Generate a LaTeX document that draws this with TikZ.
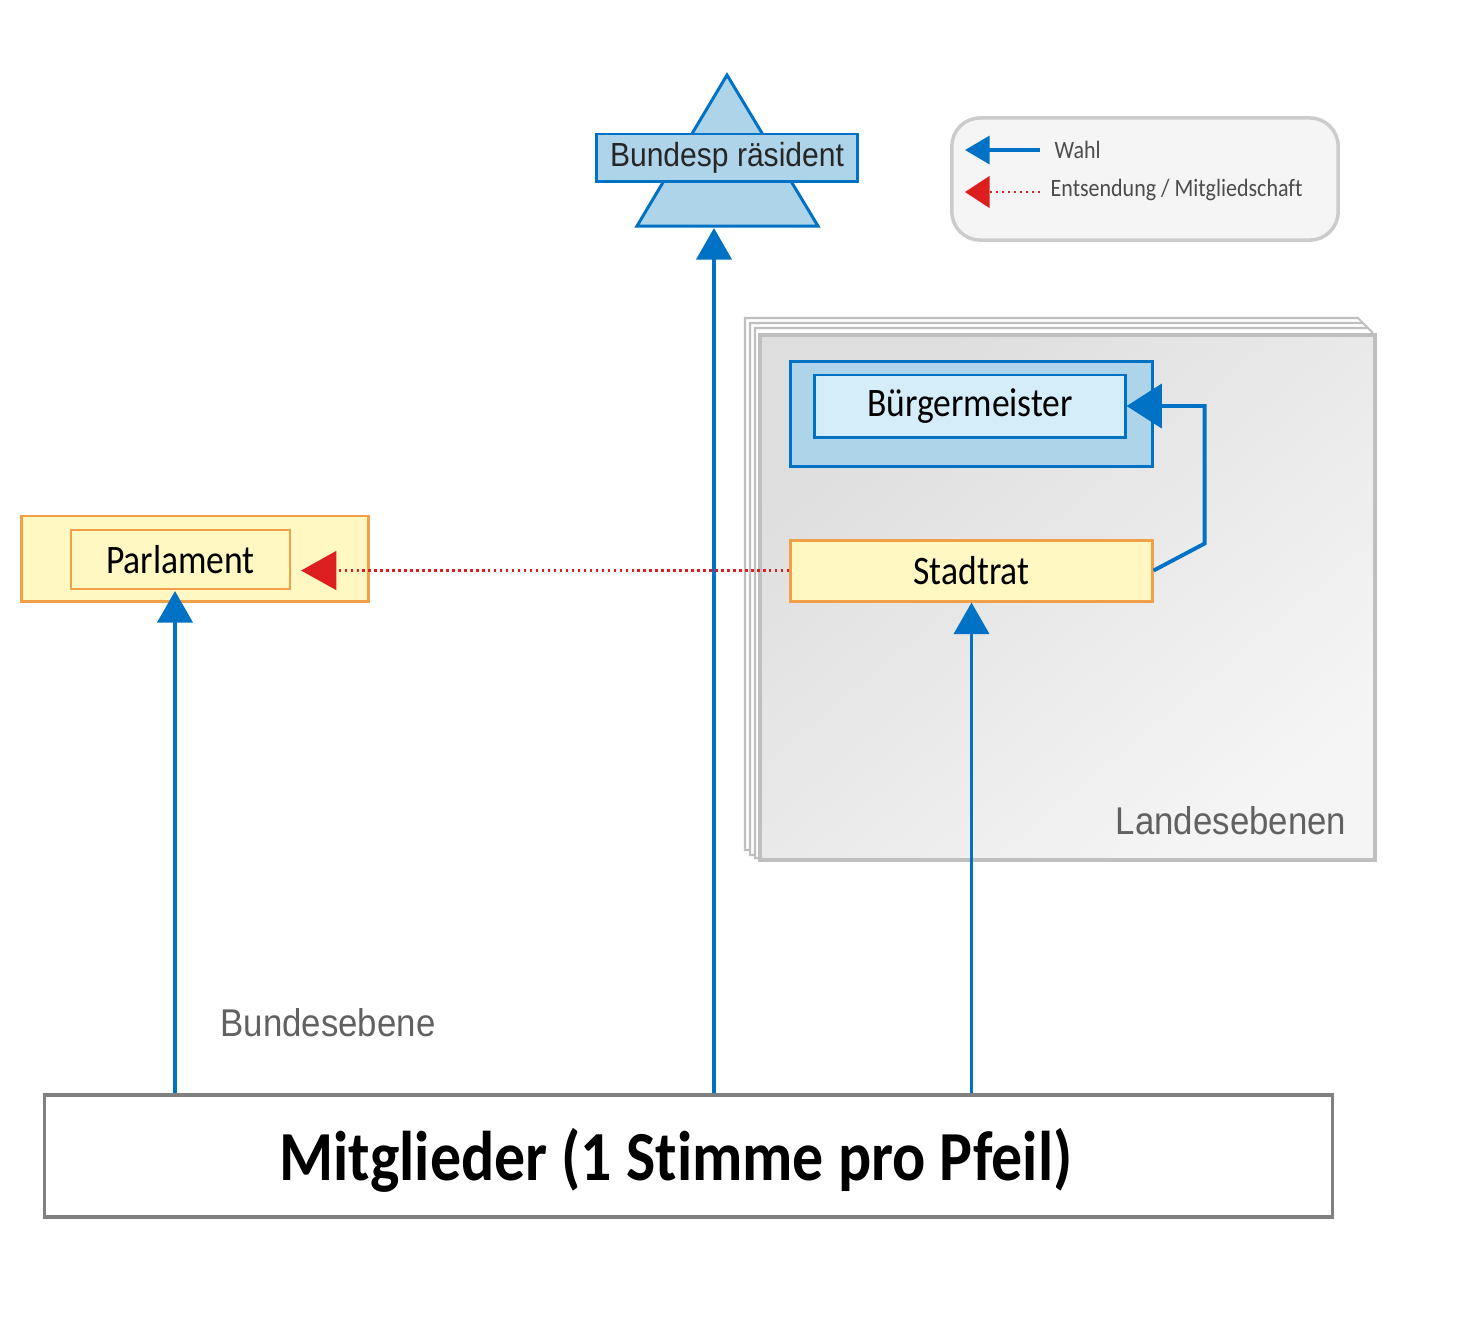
\documentclass[tikz,border=0pt]{standalone}
\usepackage{fontspec}
\setmainfont{Carlito}
\newfontfamily\boxfont{Carlito}[FakeStretch=0.88, Ligatures=NoCommon]
\newfontfamily\ebenefont{Liberation Sans}[FakeStretch=0.9]
\usetikzlibrary{arrows.meta}

\definecolor{wahlblau}{RGB}{0,114,198}
\definecolor{hellblau}{RGB}{174,212,234}
\definecolor{blassblau}{RGB}{213,236,249}
\definecolor{rahmenorange}{RGB}{240,160,70}
\definecolor{hellgelb}{RGB}{255,248,195}
\definecolor{entsendrot}{RGB}{220,30,30}

\tikzset{
  wahlpfeil/.style={draw=wahlblau, line width=1.1pt, -{Triangle[length=9pt,width=10pt]}},
  entsendpfeil/.style={draw=entsendrot, line width=0.7pt, densely dotted, -{Triangle[length=10pt,width=11pt]}},
  blaubox/.style={draw=wahlblau, line width=0.85pt, fill=hellblau, inner sep=0pt},
  gelbbox/.style={draw=rahmenorange, line width=0.85pt, fill=hellgelb, inner sep=0pt},
  boxtext/.style={font=\boxfont\fontsize{11.5}{13}\selectfont},
  ebenetext/.style={font=\ebenefont\fontsize{11}{13}\selectfont, text=black!62},
  legtext/.style={anchor=west, inner sep=0pt, font=\boxfont\fontsize{7.1}{8}\selectfont, text=black!70},
  blatt/.style={draw=black!25, line width=0.6pt, fill=white}
}

\begin{document}
\begin{tikzpicture}[x=0.01cm,y=-0.01cm]
\useasboundingbox (0,0) rectangle (1470,1332);

% Drawing the stacked Landesebenen panel
\draw [blatt] (745,318) -- (1358,318) -- (1362,322) -- (1362,850) -- (745,850) -- cycle;
\draw [blatt] (750,323) -- (1363,323) -- (1367,327) -- (1367,855) -- (750,855) -- cycle;
\draw [blatt] (755,328) -- (1368,328) -- (1372,332) -- (1372,858) -- (755,858) -- cycle;
\shade [top color=black!13, bottom color=black!4, shading angle=40]
  (760,335) rectangle (1375,860);
\draw [draw=black!25, line width=1pt] (760,335) rectangle (1375,860);
\node [ebenetext] (landlabel) at (1231,821) {Landesebenen};

% Drawing Bürgermeister
\node [blaubox, minimum width=3.61cm, minimum height=1.04cm] (bmout) at (971.5,414) {};
\node [blaubox, fill=blassblau, minimum width=3.10cm, minimum height=0.62cm, boxtext] (bmin) at (970,406) {Bürgermeister};

% Drawing Stadtrat
\node [gelbbox, minimum width=3.61cm, minimum height=0.61cm, boxtext] (stadtrat) at (971.5,570.5) {Stadtrat};

% Drawing Parlament
\node [gelbbox, minimum width=3.46cm, minimum height=0.85cm] (parlout) at (195,558.5) {};
\node [gelbbox, line width=0.6pt, minimum width=2.19cm, minimum height=0.59cm, boxtext] (parlin) at (180.5,559.5) {Parlament};
\coordinate (parlfuss) at (175,591);

% Drawing Bundespräsident
\draw [blaubox] (637,226) -- (727,75) -- (818,226) -- cycle;
\coordinate (praesbase) at (714,228);
\node [blaubox, minimum width=2.60cm, minimum height=0.47cm,
  font=\ebenefont\fontsize{9.5}{11}\selectfont, text=black!85] (praes) at (727,157.5) {Bundesp räsident};

% Drawing Mitglieder
\node [draw=black!50, line width=0.9pt, fill=white, minimum width=12.87cm, minimum height=1.22cm,
  font=\boxfont\bfseries\fontsize{20}{24}\selectfont] (mitgl) at (688.5,1156) {};
\node [font=\boxfont\bfseries\fontsize{20}{24}\selectfont] (mitgltext) at (676,1160) {Mitglieder (1 Stimme pro Pfeil)};
\node [ebenetext] (bundlabel) at (328,1023) {Bundesebene};

% Drawing Wahl arrows
\draw [wahlpfeil] (mitgl.north -| parlfuss) -- (parlfuss);
\draw [wahlpfeil] (mitgl.north -| praesbase) -- (praesbase);
\draw [wahlpfeil] (mitgl.north -| stadtrat.south) -- (stadtrat.south);
\draw [wahlpfeil, -{Triangle[length=10pt,width=12.5pt]}] (stadtrat.east) -- ++(51,-27) |- (bmin.east);

% Drawing Entsendung arrow
\draw [entsendpfeil] (stadtrat.west) -- ([xshift=0.1cm]stadtrat.west -| parlin.east);

% Drawing legend
\node [draw=black!20, line width=1pt, fill=black!4, rounded corners=8pt,
  minimum width=3.86cm, minimum height=1.22cm] (legende) at (1145,179) {};
\coordinate (wahlA) at (1040,150);
\coordinate (wahlB) at (965,150);
\coordinate (entsA) at (1040,192);
\coordinate (entsB) at (965,192);
\draw [wahlpfeil, line width=0.9pt, -{Triangle[length=7pt,width=8pt]}] (wahlA) -- (wahlB);
\draw [entsendpfeil, -{Triangle[length=7pt,width=9pt]}] (entsA) -- (entsB);
\node [legtext] (wahltext) at (1054,150) {Wahl};
\node [legtext] (entstext) at (1050,190) {Entsendung / Mitgliedschaft};
\end{tikzpicture}
\end{document}
